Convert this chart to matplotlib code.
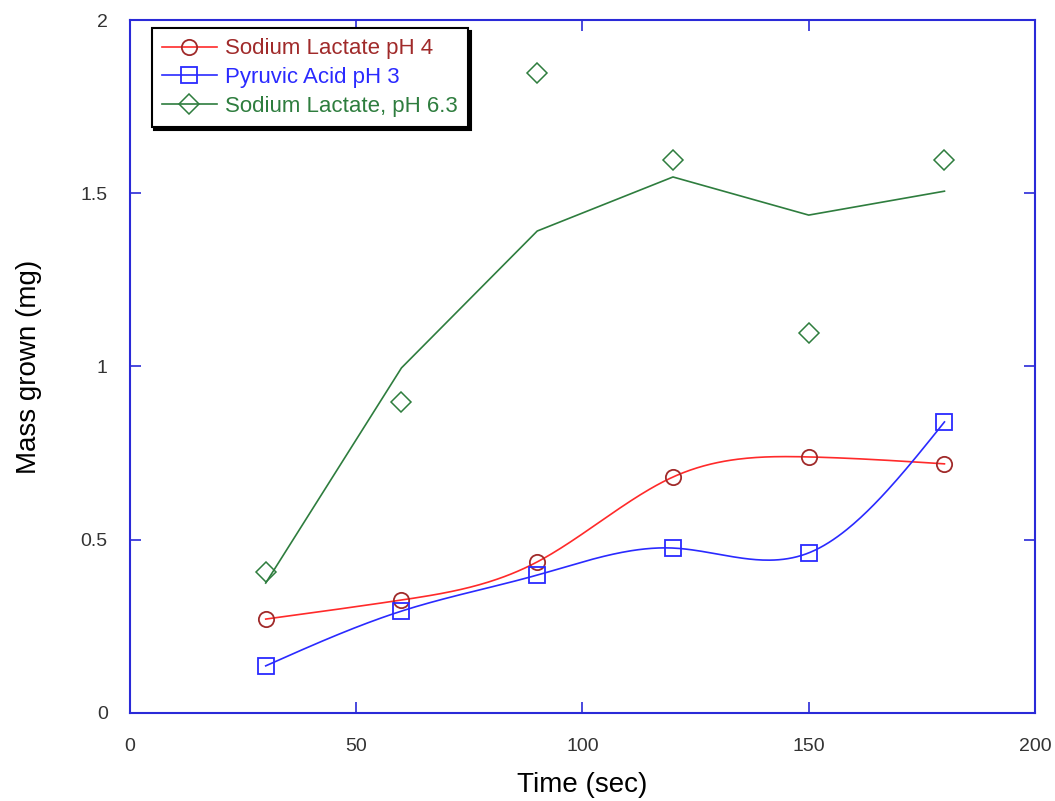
import numpy as np
import matplotlib
matplotlib.use("Agg")
import matplotlib.pyplot as plt
from matplotlib.lines import Line2D

plt.rcParams['font.family'] = ['Liberation Sans', 'DejaVu Sans']

# data
time = [30, 60, 90, 120, 150, 180]
lactate_ph4 = [0.271, 0.326, 0.436, 0.681, 0.739, 0.719]
pyruvic_ph3 = [0.136, 0.294, 0.398, 0.476, 0.462, 0.840]
lactate_ph63 = [0.407, 0.898, 1.847, 1.596, 1.097, 1.596]
lactate_ph63_fit = [0.375, 0.996, 1.391, 1.547, 1.437, 1.506]

labels = ["Sodium Lactate pH 4", "Pyruvic Acid pH 3", "Sodium Lactate, pH 6.3"]


def smooth(x, y, n=300):
    # natural cubic spline, just for drawing the curve through the points
    x = np.asarray(x, float)
    y = np.asarray(y, float)
    h = np.diff(x)
    m = len(x)
    A = np.zeros((m, m))
    b = np.zeros(m)
    A[0, 0] = A[-1, -1] = 1
    for i in range(1, m - 1):
        A[i, i - 1] = h[i - 1]
        A[i, i] = 2 * (h[i - 1] + h[i])
        A[i, i + 1] = h[i]
        b[i] = 6 * ((y[i + 1] - y[i]) / h[i] - (y[i] - y[i - 1]) / h[i - 1])
    M = np.linalg.solve(A, b)
    xs = np.linspace(x[0], x[-1], n)
    k = np.clip(np.searchsorted(x, xs) - 1, 0, m - 2)
    t1 = x[k + 1] - xs
    t0 = xs - x[k]
    hk = h[k]
    ys = (M[k] * t1**3 + M[k + 1] * t0**3) / (6 * hk) \
        + (y[k] / hk - M[k] * hk / 6) * t1 + (y[k + 1] / hk - M[k + 1] * hk / 6) * t0
    return xs, ys


red = '#ff2a2a'
red_dark = '#a02a2a'
blue = '#2a2aff'
green = '#2e7d3e'
frame = '#2a2ad8'

fig = plt.figure(figsize=(10.55, 8.01), dpi=100)
ax = fig.add_axes([0.1232, 0.1099, 0.8578, 0.8651])

xs, ys = smooth(time, lactate_ph4)
ax.plot(xs, ys, color=red, lw=1.2)
ax.plot(time, lactate_ph4, 'o', ms=11, mfc='none', mec=red_dark, mew=1.3)

xs, ys = smooth(time, pyruvic_ph3)
ax.plot(xs, ys, color=blue, lw=1.2)
ax.plot(time, pyruvic_ph3, 's', ms=11, mfc='none', mec=blue, mew=1.3)

ax.plot(time, lactate_ph63_fit, color=green, lw=1.2)
ax.plot(time, lactate_ph63, 'D', ms=10, mfc='none', mec=green, mew=1.1)

ax.set_xlim(0, 200)
ax.set_ylim(0, 2)
ax.set_xticks([0, 50, 100, 150, 200])
ax.set_yticks([0, 0.5, 1, 1.5, 2])
ax.set_yticklabels(['0', '0.5', '1', '1.5', '2'])
ax.tick_params(direction='in', length=8, width=1.2, color=frame, labelcolor='#333333',
               labelsize=14, top=True, right=True)
ax.tick_params(axis='x', pad=18)
ax.tick_params(axis='y', pad=16)
for s in ax.spines.values():
    s.set_color(frame)
    s.set_linewidth(1.5)

ax.set_xlabel("Time (sec)", fontsize=20, labelpad=12)
ax.set_ylabel("Mass grown (mg)", fontsize=20, labelpad=28)

handles = [
    Line2D([], [], color=red, lw=1.2, marker='o', ms=11, mfc='none', mec=red_dark, mew=1.3),
    Line2D([], [], color=blue, lw=1.2, marker='s', ms=11, mfc='none', mec=blue, mew=1.3),
    Line2D([], [], color=green, lw=1.2, marker='D', ms=10, mfc='none', mec=green, mew=1.1),
]
leg = ax.legend(handles, labels, loc='upper left', bbox_to_anchor=(0.024, 0.988),
                borderaxespad=0, fontsize=16, frameon=True, fancybox=False,
                handlelength=2.5, handletextpad=0.35, labelspacing=0.35, borderpad=0.45,
                shadow={'color': 'black', 'alpha': 1})
leg.get_frame().set_edgecolor('black')
leg.get_frame().set_linewidth(1.5)
for txt, c in zip(leg.get_texts(), [red_dark, blue, green]):
    txt.set_color(c)

plt.savefig('out.png', dpi=100)
